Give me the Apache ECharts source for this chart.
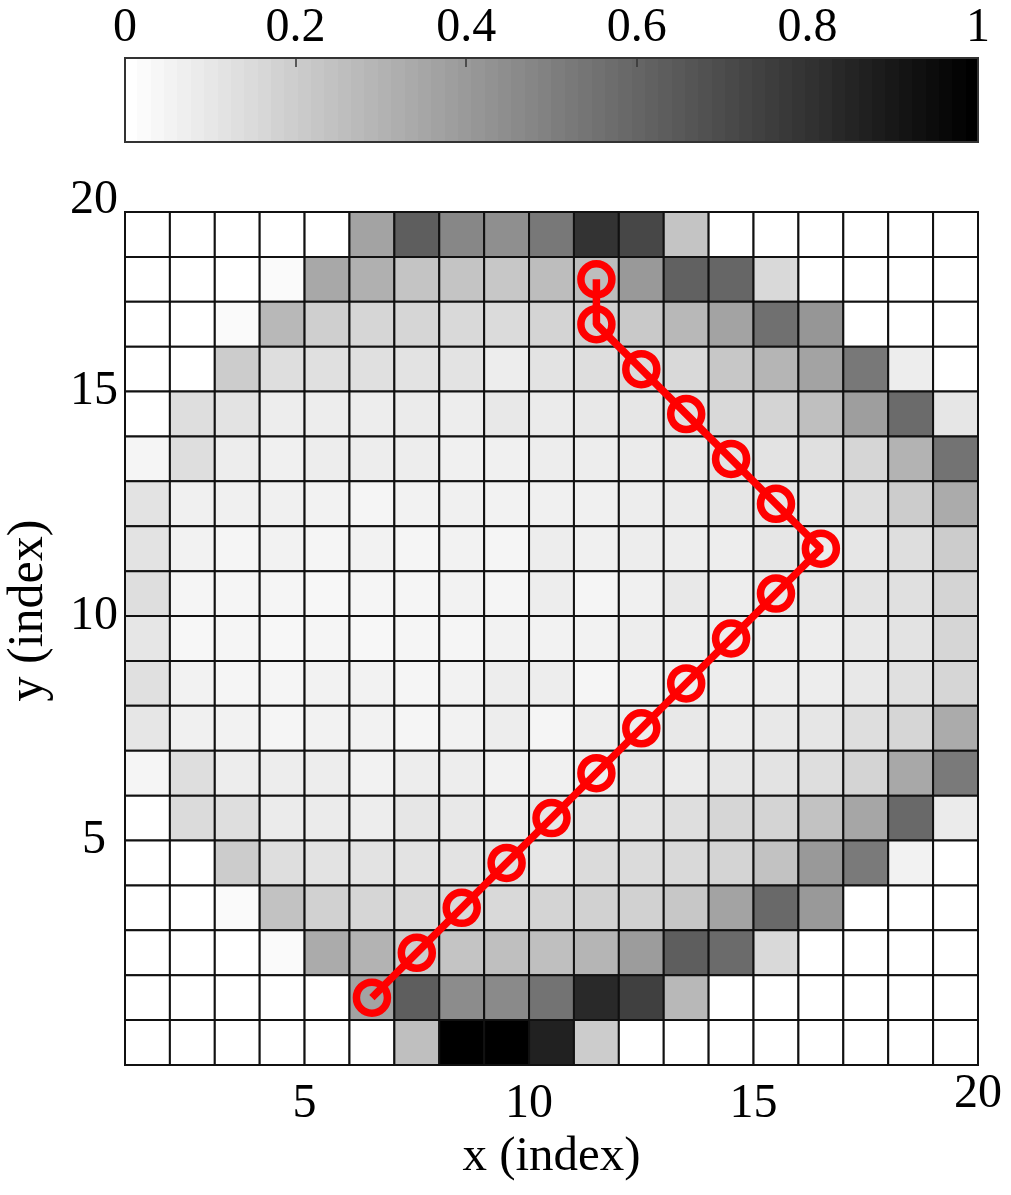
<!DOCTYPE html>
<html>
<head>
<meta charset="utf-8">
<script src="https://cdn.jsdelivr.net/npm/echarts@6/dist/echarts.min.js"></script>
<style>
html,body{margin:0;padding:0;background:#ffffff;}
#chart{width:1011px;height:1195px;}
</style>
</head>
<body>
<div id="chart"></div>
<script>
// ---- data ----
const xTickValues = [5, 10, 15, 20];
const xTickLabels = ['5', '10', '15', '20'];
const yTickValues = [5, 10, 15, 19];
const yTickLabels = ['5', '10', '15', '20'];
const cbTickLabels = ['0', '0.2', '0.4', '0.6', '0.8', '1'];

// cell values, rows listed from top to bottom, columns left to right
const cellValues = [
  [0,0,0,0,0,0.36,0.63,0.47,0.44,0.53,0.80,0.72,0.23,0,0,0,0,0,0],
  [0,0,0,0.02,0.34,0.31,0.23,0.23,0.22,0.26,0.26,0.40,0.62,0.60,0.15,0,0,0,0],
  [0,0,0.02,0.28,0.19,0.16,0.16,0.15,0.14,0.17,0.18,0.21,0.28,0.36,0.56,0.41,0,0,0],
  [0,0,0.20,0.13,0.12,0.12,0.11,0.11,0.07,0.11,0.13,0.14,0.15,0.22,0.29,0.36,0.53,0.07,0],
  [0,0.13,0.11,0.07,0.07,0.07,0.08,0.07,0.09,0.08,0.09,0.10,0.12,0.15,0.17,0.25,0.38,0.58,0.10],
  [0.04,0.13,0.07,0.06,0.07,0.07,0.07,0.06,0.06,0.07,0.07,0.08,0.09,0.11,0.11,0.12,0.16,0.30,0.55],
  [0.11,0.06,0.06,0.06,0.05,0.04,0.05,0.06,0.05,0.06,0.06,0.07,0.08,0.10,0.10,0.10,0.13,0.20,0.33],
  [0.11,0.05,0.04,0.05,0.04,0.05,0.04,0.05,0.04,0.07,0.06,0.07,0.07,0.07,0.10,0.08,0.10,0.13,0.20],
  [0.13,0.04,0.04,0.04,0.03,0.04,0.04,0.05,0.04,0.07,0.04,0.06,0.09,0.07,0.09,0.10,0.11,0.12,0.17],
  [0.10,0.03,0.04,0.03,0.04,0.03,0.04,0.04,0.05,0.05,0.05,0.07,0.07,0.07,0.07,0.07,0.09,0.11,0.16],
  [0.12,0.05,0.04,0.04,0.05,0.05,0.04,0.05,0.07,0.07,0.04,0.06,0.07,0.07,0.07,0.07,0.09,0.12,0.16],
  [0.10,0.06,0.05,0.04,0.05,0.05,0.04,0.05,0.07,0.04,0.07,0.07,0.09,0.08,0.09,0.10,0.13,0.16,0.33],
  [0.04,0.13,0.07,0.07,0.07,0.05,0.07,0.07,0.05,0.06,0.07,0.10,0.08,0.10,0.11,0.13,0.17,0.34,0.52],
  [0,0.14,0.13,0.08,0.08,0.07,0.10,0.09,0.07,0.10,0.11,0.11,0.13,0.16,0.17,0.24,0.35,0.59,0.08],
  [0,0,0.20,0.13,0.11,0.11,0.11,0.11,0.12,0.10,0.14,0.14,0.15,0.17,0.24,0.40,0.52,0.05,0],
  [0,0,0.02,0.24,0.18,0.16,0.15,0.15,0.15,0.17,0.18,0.18,0.22,0.36,0.59,0.40,0,0,0],
  [0,0,0,0.02,0.33,0.30,0.20,0.23,0.25,0.25,0.29,0.39,0.63,0.58,0.15,0,0,0,0],
  [0,0,0,0,0,0.36,0.63,0.45,0.46,0.55,0.84,0.75,0.28,0,0,0,0,0,0],
  [0,0,0,0,0,0,0.25,1,1,0.87,0.20,0,0,0,0,0,0,0,0]
];

// red path (cell centres)
const pathX = [11.5,11.5,12.5,13.5,14.5,15.5,16.5,15.5,14.5,13.5,12.5,11.5,10.5,9.5,8.5,7.5,6.5];
const pathY = [17.5,16.5,15.5,14.5,13.5,12.5,11.5,10.5,9.5,8.5,7.5,6.5,5.5,4.5,3.5,2.5,1.5];

// ---- build ----
const X0 = 1, Y0 = 0;
const nRows = cellValues.length;
const cells = [];
cellValues.forEach(function (row, r) {
  row.forEach(function (v, c) {
    cells.push([X0 + c, Y0 + (nRows - 1 - r), v]);
  });
});
const pathData = pathX.map(function (x, i) { return [x, pathY[i]]; });

// colour bar gradient (style only, 64-level stepped gray)
const stops = [];
const NL = 64;
for (let i = 0; i < NL; i++) {
  const g = Math.round(255 * (1 - i / (NL - 1)));
  const col = 'rgb(' + g + ',' + g + ',' + g + ')';
  stops.push({ offset: i / NL, color: col });
  stops.push({ offset: (i + 1) / NL, color: col });
}

const FONT = 'Liberation Serif';
const chart = echarts.init(document.getElementById('chart'), null, { renderer: 'canvas' });

const option = {
  animation: false,
  backgroundColor: '#ffffff',
  textStyle: { fontFamily: FONT, color: '#000' },
  grid: [
    { left: 125, top: 212, width: 853, height: 853, show: false, containLabel: false, outerBoundsMode: 'none' },
    {
      left: 125, top: 58, width: 853, height: 84, show: true, z: 0,
      containLabel: false, outerBoundsMode: 'none',
      borderColor: '#333', borderWidth: 2,
      backgroundColor: { type: 'linear', x: 0, y: 0, x2: 1, y2: 0, colorStops: stops, global: false }
    }
  ],
  xAxis: [
    {
      gridIndex: 0, type: 'value', min: 1, max: 20, interval: 1,
      name: 'x (index)', nameLocation: 'middle', nameGap: 68, nameMoveOverlap: false,
      nameTextStyle: { fontFamily: FONT, fontSize: 49, color: '#000' },
      axisLine: { show: true, onZero: false, lineStyle: { color: '#000', width: 2 } },
      axisTick: { show: false },
      splitLine: { show: false },
      axisLabel: {
        show: true, interval: 0, margin: 5,
        fontFamily: FONT, fontSize: 48, color: '#000',
        formatter: function (v) {
          const i = xTickValues.indexOf(v);
          if (i < 0) return '';
          return (i === xTickValues.length - 1 ? '{t|' : '{n|') + xTickLabels[i] + '}';
        },
        rich: {
          n: { fontFamily: FONT, fontSize: 48, color: '#000', padding: [10, 0, 0, 0] },
          t: { fontFamily: FONT, fontSize: 48, color: '#000' }
        }
      }
    },
    {
      gridIndex: 1, type: 'value', min: 0, max: 1, interval: 0.2, position: 'top', z: 10,
      axisLine: { show: false, onZero: false },
      axisTick: { show: true, inside: true, length: 9, lineStyle: { color: '#333', width: 1.5 } },
      splitLine: { show: false },
      axisLabel: {
        show: true, margin: 6, fontFamily: FONT, fontSize: 48, color: '#000',
        formatter: function (v, idx) { return cbTickLabels[idx]; }
      }
    }
  ],
  yAxis: [
    {
      gridIndex: 0, type: 'value', min: 0, max: 19, interval: 1,
      name: 'y (index)', nameLocation: 'middle', nameGap: 71, nameMoveOverlap: false,
      nameTextStyle: { fontFamily: FONT, fontSize: 50, color: '#000', padding: [0, 0, 0, 56] },
      axisLine: { show: true, onZero: false, lineStyle: { color: '#000', width: 2 } },
      axisTick: { show: false },
      splitLine: { show: false },
      axisLabel: {
        show: true, interval: 0, margin: 31, align: 'center',
        fontFamily: FONT, fontSize: 48, color: '#000',
        formatter: function (v) {
          const i = yTickValues.indexOf(v);
          if (i < 0) return '';
          return (i === yTickValues.length - 1 ? '{t|' : '{n|') + yTickLabels[i] + '}';
        },
        rich: {
          n: { fontFamily: FONT, fontSize: 48, color: '#000' },
          t: { fontFamily: FONT, fontSize: 48, color: '#000', padding: [0, 0, 24, 0] }
        }
      }
    },
    {
      gridIndex: 1, type: 'value', min: 0, max: 1,
      axisLine: { show: false, onZero: false }, axisTick: { show: false },
      axisLabel: { show: false }, splitLine: { show: false }
    }
  ],
  visualMap: {
    show: false, type: 'continuous', min: 0, max: 1, dimension: 2, seriesIndex: 0,
    inRange: { color: ['#ffffff', '#000000'] }
  },
  series: [
    {
      type: 'custom',
      xAxisIndex: 0, yAxisIndex: 0,
      encode: { x: 0, y: 1 },
      data: cells,
      z: 2,
      renderItem: function (params, api) {
        const x = api.value(0), y = api.value(1);
        const p0 = api.coord([x, y + 1]);
        const p1 = api.coord([x + 1, y]);
        return {
          type: 'rect',
          shape: { x: p0[0], y: p0[1], width: p1[0] - p0[0], height: p1[1] - p0[1] },
          style: { fill: api.visual('color'), stroke: '#111', lineWidth: 2 }
        };
      }
    },
    {
      type: 'line',
      xAxisIndex: 0, yAxisIndex: 0,
      data: pathData,
      z: 5,
      symbol: 'circle',
      symbolSize: 31,
      lineStyle: { color: '#ff0000', width: 7.5 },
      itemStyle: { color: 'rgba(0,0,0,0)', borderColor: '#ff0000', borderWidth: 7.5 },
      emphasis: { disabled: true }
    }
  ]
};
chart.setOption(option);
</script>
</body>
</html>
